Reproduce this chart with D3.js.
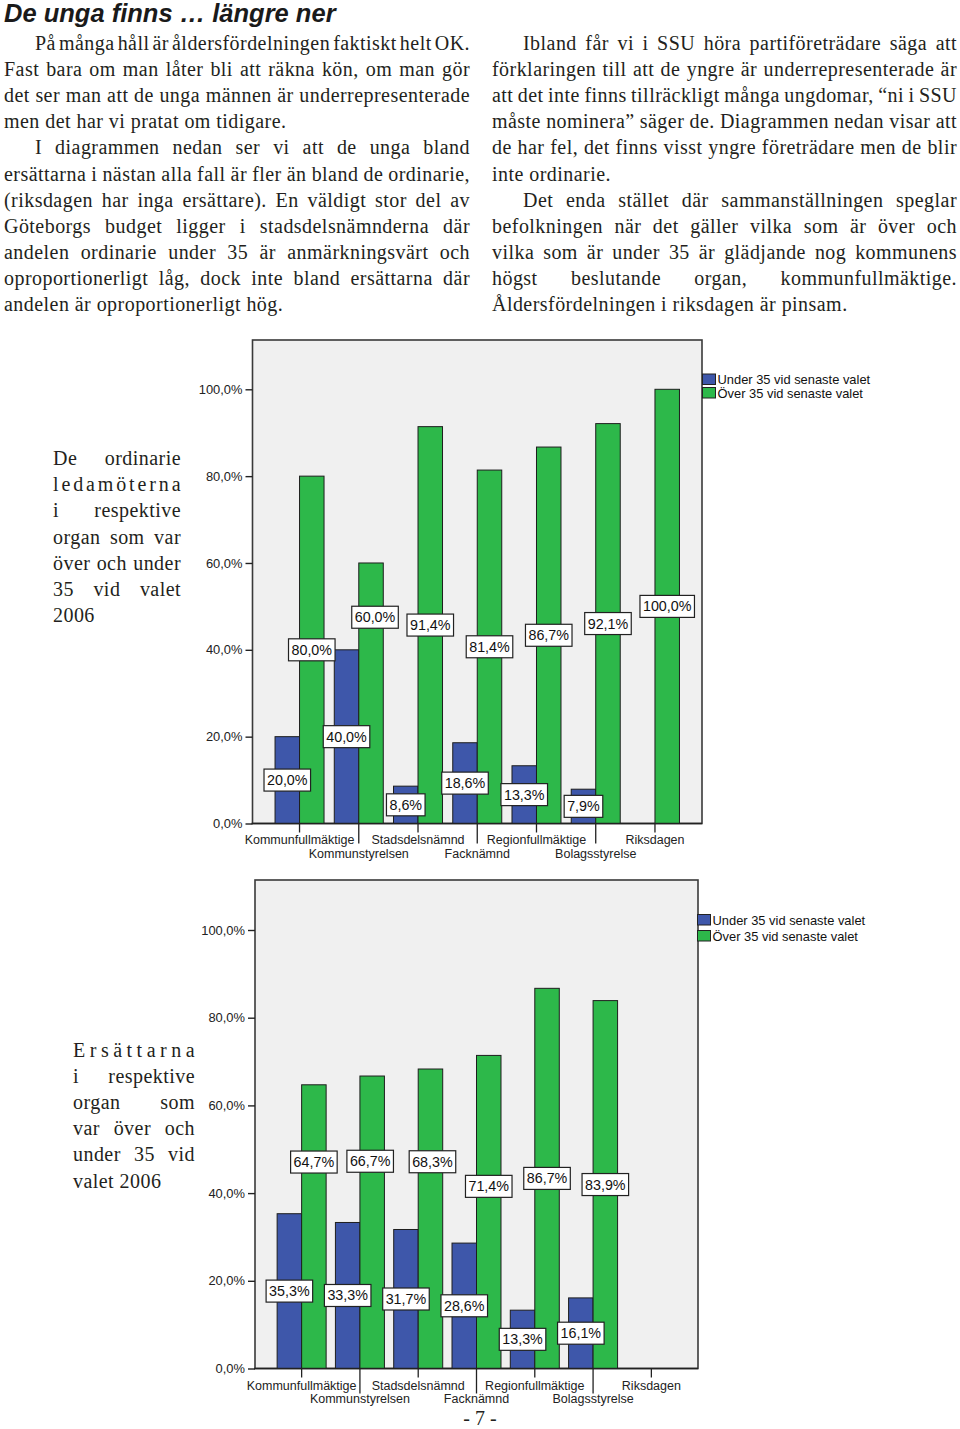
<!DOCTYPE html>
<html><head><meta charset="utf-8">
<script src="https://cdn.jsdelivr.net/npm/d3@7/dist/d3.min.js"></script>
<style>html,body{margin:0;padding:0;background:#fff}svg{display:block}</style>
</head><body>
<svg id="page" width="960" height="1429"></svg>
<script>
// ---------------- DATA ----------------
const categories = ["Kommunfullmäktige","Kommunstyrelsen","Stadsdelsnämnd","Facknämnd","Regionfullmäktige","Bolagsstyrelse","Riksdagen"];
const seriesNames = ["Under 35 vid senaste valet","Över 35 vid senaste valet"];
const ordinarieUnder35 = [20.0, 40.0, 8.6, 18.6, 13.3, 7.9, null];
const ordinarieOver35  = [80.0, 60.0, 91.4, 81.4, 86.7, 92.1, 100.0];
const ersattareUnder35 = [35.3, 33.3, 31.7, 28.6, 13.3, 16.1, null];
const ersattareOver35  = [64.7, 66.7, 68.3, 71.4, 86.7, 83.9, null];
const yTicks = [0, 20, 40, 60, 80, 100];

const titleText = "De unga finns … längre ner";
const leftColumn = [
  ["På många håll är åldersfördelningen faktiskt helt OK.",
   "Fast bara om man låter bli att räkna kön, om man gör",
   "det ser man att de unga männen är underrepresenterade",
   "men det har vi pratat om tidigare."],
  ["I diagrammen nedan ser vi att de unga bland",
   "ersättarna i nästan alla fall är fler än bland de ordinarie,",
   "(riksdagen har inga ersättare). En väldigt stor del av",
   "Göteborgs budget ligger i stadsdelsnämnderna där",
   "andelen ordinarie under 35 är anmärkningsvärt och",
   "oproportionerligt låg, dock inte bland ersättarna där",
   "andelen är oproportionerligt hög."]
];
const rightColumn = [
  ["Ibland får vi i SSU höra partiföreträdare säga att",
   "förklaringen till att de yngre är underrepresenterade är",
   "att det inte finns tillräckligt många ungdomar, “ni i SSU",
   "måste nominera” säger de. Diagrammen nedan visar att",
   "de har fel, det finns visst yngre företrädare men de blir",
   "inte ordinarie."],
  ["Det enda stället där sammanställningen speglar",
   "befolkningen när det gäller vilka som är över och",
   "vilka som är under 35 är glädjande nog kommunens",
   "högst beslutande organ, kommunfullmäktige.",
   "Åldersfördelningen i riksdagen är pinsam."]
];
const caption1 = ["De ordinarie","ledamöterna","i respektive","organ som var","över och under","35 vid valet","2006"];
const caption2 = ["Ersättarna","i respektive","organ som","var över och","under 35 vid","valet 2006"];
const pageNumber = "- 7 -";

// ---------------- STYLE ----------------
const BLUE = "#3e57aa", GREEN = "#2db84a";
const SERIF = '"Liberation Serif","Times New Roman",serif';
const SANS = '"Liberation Sans",Arial,sans-serif';
const TEXTCOL = "#231f20";
const svg = d3.select("#page");
const fmt = v => v.toFixed(1).replace(".", ",") + "%";

// ---------------- TEXT ----------------
svg.append("text").attr("x", 4).attr("y", 22)
  .attr("font-family", SANS).attr("font-weight", "bold").attr("font-style", "italic")
  .attr("font-size", 25.5).attr("fill", "#1a1a1a").text(titleText);

const measurer = svg.append("text").attr("font-family", SERIF).attr("font-size", 20)
  .style("letter-spacing", "0.45px").attr("x", -1000).attr("y", -1000);
function wordWidth(w) { measurer.text(w); return measurer.node().getComputedTextLength(); }

function line(str, x, yb, width, justify) {
  const t = svg.append("text").attr("x", x).attr("y", yb)
    .attr("font-family", SERIF).attr("font-size", 20).attr("fill", TEXTCOL)
    .style("letter-spacing", "0.45px");
  const words = str.split(" ");
  if (!justify) { t.text(str); return t; }
  if (words.length === 1) {
    const nat = wordWidth(str);
    t.text(str).attr("textLength", width).attr("lengthAdjust", nat > width ? "spacingAndGlyphs" : "spacing");
    return t;
  }
  const widths = words.map(wordWidth);
  const sum = d3.sum(widths);
  let gap = (width - sum) / (words.length - 1);
  let scale = 1;
  if (gap < 3) { scale = (width - 3 * (words.length - 1)) / sum; gap = 3; }
  let cx = x;
  words.forEach((w, i) => {
    const ts = t.append("tspan").attr("x", cx).text(w);
    if (scale < 1) ts.attr("textLength", widths[i] * scale).attr("lengthAdjust", "spacingAndGlyphs");
    cx += widths[i] * scale + gap;
  });
  return t;
}

function column(paras, x0, x1, y0, lh, indent) {
  let k = 0;
  paras.forEach(p => {
    p.forEach((s, j) => {
      const x = j === 0 ? x0 + indent : x0;
      line(s, x, y0 + k * lh, x1 - x, j < p.length - 1);
      k++;
    });
  });
}
column(leftColumn, 4, 470, 50, 26.1, 31);
column(rightColumn, 492, 957, 50, 26.1, 31);

caption1.forEach((s, i) => line(s, 53, 465 + i * 26.2, 128, i < caption1.length - 1));
caption2.forEach((s, i) => line(s, 73, 1057 + i * 26.1, 122, i < caption2.length - 1));
measurer.remove();

svg.append("text").attr("x", 480).attr("y", 1424.5).attr("text-anchor", "middle")
  .attr("font-family", SERIF).attr("font-size", 20).attr("fill", TEXTCOL).text(pageNumber);

// ---------------- CHARTS ----------------
function drawChart(c) {
  const g = svg.append("g");
  const x = d3.scaleBand().domain(categories).range([c.left, c.right])
    .paddingInner(0).paddingOuter(c.outer);
  const y = d3.scaleLinear().domain([0, 100]).range([c.zeroY, c.hundredY]);
  const bw = c.barW;

  g.append("rect").attr("x", c.left).attr("y", c.top)
    .attr("width", c.right - c.left).attr("height", c.zeroY - c.top)
    .attr("fill", "#f0f0f0").attr("stroke", "#3a3a3a").attr("stroke-width", 1.6);

  const rows = categories.map((cat, i) => ({ cat, i, u: c.under[i], o: c.over[i] }));
  const series = [
    { key: "u", color: BLUE, off: -bw },
    { key: "o", color: GREEN, off: 0 }
  ];
  series.forEach(s => {
    g.append("g").selectAll("rect")
      .data(rows.filter(r => r[s.key] != null))
      .join("rect")
      .attr("x", r => x(r.cat) + x.bandwidth() / 2 + s.off)
      .attr("y", r => y(r[s.key]))
      .attr("width", bw)
      .attr("height", r => c.zeroY - y(r[s.key]))
      .attr("fill", s.color).attr("stroke", "#1e1e1e").attr("stroke-width", 1);
  });

  // y axis
  const ya = g.append("g").attr("transform", `translate(${c.left},0)`)
    .call(d3.axisLeft(y).tickValues(yTicks).tickSize(7).tickPadding(3).tickFormat(fmt));
  ya.select(".domain").remove();
  ya.selectAll(".tick line").attr("stroke", "#222").attr("stroke-width", 1.4);
  ya.selectAll(".tick text").attr("font-family", SANS).attr("font-size", 12.9).attr("fill", "#222");

  // x axis
  const xa = g.append("g").attr("transform", `translate(0,${c.zeroY})`)
    .call(d3.axisBottom(x).tickSize(20).tickSizeOuter(0));
  xa.select(".domain").remove();
  xa.selectAll(".tick line").attr("y2", (d, i) => i % 2 === 0 ? c.shortTick : c.longTick)
    .attr("stroke", "#222").attr("stroke-width", 1.3);
  xa.selectAll(".tick text").attr("dy", 0).attr("y", (d, i) => i % 2 === 0 ? c.row1 : c.row2)
    .attr("font-family", SANS).attr("font-size", 12.5).attr("fill", "#222");

  // bottom axis line
  g.append("line").attr("x1", c.left - 1).attr("x2", c.right).attr("y1", c.zeroY).attr("y2", c.zeroY)
    .attr("stroke", "#222").attr("stroke-width", 1.6);

  // value labels
  const lg = g.append("g");
  series.forEach(s => {
    rows.filter(r => r[s.key] != null).forEach(r => {
      const nud = c.nudge[r.i + s.key] || [0, 0];
      const cx = x(r.cat) + x.bandwidth() / 2 + s.off + bw / 2 + nud[0];
      const cy = (y(r[s.key]) + c.zeroY) / 2 + nud[1];
      const lab = lg.append("g");
      const box = lab.append("rect");
      const t = lab.append("text").attr("x", cx).attr("y", cy + 5)
        .attr("text-anchor", "middle").attr("font-family", SANS).attr("font-size", 14.3)
        .attr("fill", "#111").text(fmt(r[s.key]));
      const w = t.node().getComputedTextLength() + 6;
      box.attr("x", cx - w / 2).attr("y", cy - 11).attr("width", w).attr("height", 22)
        .attr("fill", "#fff").attr("stroke", "#222").attr("stroke-width", 1.2);
    });
  });

  // legend
  const leg = g.append("g");
  seriesNames.forEach((n, i) => {
    leg.append("rect").attr("x", c.legX).attr("y", c.legY[i]).attr("width", 13).attr("height", 10.5)
      .attr("fill", i === 0 ? BLUE : GREEN).attr("stroke", "#222").attr("stroke-width", 1);
    leg.append("text").attr("x", c.legX + 15).attr("y", c.legY[i] + 10)
      .attr("font-family", SANS).attr("font-size", 12.9).attr("fill", "#111").text(n);
  });
}

drawChart({
  left: 252.5, right: 702, top: 340, zeroY: 823.5, hundredY: 389.3, outer: 0.294, barW: 24.5,
  under: ordinarieUnder35, over: ordinarieOver35,
  shortTick: 9, longTick: 20, row1: 20, row2: 34.3,
  legX: 702.5, legY: [374, 387.5],
  nudge: { "1o": [4, -76] }
});

drawChart({
  left: 255, right: 698, top: 880, zeroY: 1368.5, hundredY: 930, outer: 0.3, barW: 24.5,
  under: ersattareUnder35, over: ersattareOver35,
  shortTick: 9, longTick: 25, row1: 21.5, row2: 34.5,
  legX: 697.5, legY: [914.5, 930.5],
  nudge: { "0o": [0, -64.6], "1o": [-2, -61], "2o": [2, -57], "3o": [0, -25.6] }
});
</script>
</body></html>
